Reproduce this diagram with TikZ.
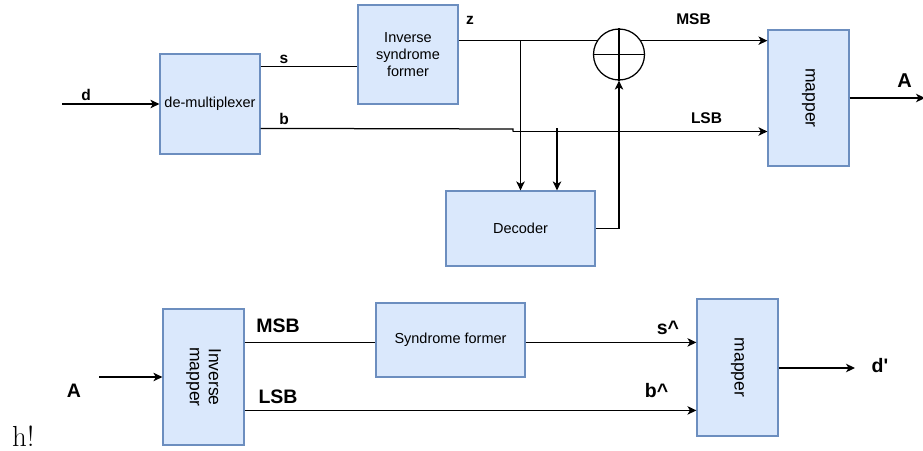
\documentclass[tikz,border=0pt]{standalone}
\usepackage{fontspec}
\setmainfont{Liberation Sans}
\newfontfamily\lmfont{Latin Modern Roman}
\usetikzlibrary{arrows.meta,calc}
\definecolor{boxfill}{HTML}{DAE8FC}
\definecolor{boxline}{HTML}{6C8EBF}
\tikzset{
  blk/.style={draw=boxline, fill=boxfill, line width=1.2pt, inner sep=0pt,
    align=center, font=\fontsize{14.5}{17}\selectfont},
  rotblk/.style={blk, font=\fontsize{17.5}{20}\selectfont},
  wire/.style={line width=1.25pt, draw=black},
  arr/.style={wire, -{Stealth[length=9pt,width=8.5pt,inset=2.5pt]}},
  lab/.style={font=\bfseries\fontsize{15.5}{18}\selectfont, anchor=base, inner sep=0pt},
  biglab/.style={font=\bfseries\fontsize{19.5}{22}\selectfont, anchor=base, inner sep=0pt}
}
\begin{document}
\begin{tikzpicture}[x=1pt, y=-1pt]
\useasboundingbox (0,0) rectangle (923,450);

% ---- encoder ----
\node[blk, minimum width=100pt, minimum height=100pt] (demux) at (210,104) {de-multiplexer};
\node[blk, minimum width=100pt, minimum height=99pt] (isf) at (408,54.5) {Inverse\\syndrome\\former};
\node[rotblk, minimum width=81pt, minimum height=136pt] (mapA) at (808.5,98) {};
\node[rotate=-90, font=\fontsize{17.5}{20}\selectfont] (mapAt) at (mapA.center) {mapper};
\node[blk, minimum width=149pt, minimum height=75pt] (dec) at (520.5,228.5) {Decoder};
\node[draw, circle, wire, minimum size=51pt, inner sep=0pt] (xor) at (619,54.5) {};
\draw[wire] (xor.north) -- (xor.south) (xor.west) -- (xor.east);

\coordinate (din) at (62,104);
\draw[arr] (din) -- (demux.west);
\node[lab] (ld) at (86,100) {d};

% s branch
\draw[wire] ([yshift=-13pt]demux.north east) coordinate (s0) -- (s0 -| isf.west);
\node[lab] (ls) at (284,63) {s};

% z branch to the adder
\draw[wire] (xor.148 -| isf.east) coordinate (z0) -- (xor.148);
\node[lab] (lz) at (470,24) {z};
\draw[arr] (xor.32) -- (xor.32 -| mapA.west);
\node[lab] (lmsb) at (693.5,24.3) {MSB};

% b branch
\coordinate (b0) at ([yshift=-75pt]demux.north east);
\coordinate (bj) at (513,129);
\coordinate (bj2) at (513,131.5);
\draw[wire] (b0) -- (bj) -- (bj2);
\draw[arr] (bj2) -- (bj2 -| mapA.west);
\node[lab] (lb) at (284,124) {b};
\node[lab] (llsb) at (706.5,123) {LSB};

% decoder inputs and output
\draw[arr] (dec.north |- z0) -- (dec.north);
\draw[arr] ([xshift=36.5pt]dec.north |- b0) -- ([xshift=36.5pt]dec.north);
\draw[arr] (dec.east) -| (xor.south);

% output A
\coordinate (aout) at (925,98);
\draw[arr] (mapA.east) -- (aout);
\node[lab, font=\bfseries\fontsize{20}{22}\selectfont] (lA) at (904.5,87) {A};

% ---- decoder side ----
\node[rotblk, minimum width=81pt, minimum height=136pt] (imap) at (203.5,377) {};
\node[rotate=-90, align=center, font=\fontsize{17.5}{19}\selectfont] (imapt) at (imap.center) {Inverse\\mapper};
\node[blk, minimum width=149pt, minimum height=74pt] (sf) at (450.5,340) {Syndrome former};
\node[rotblk, minimum width=81pt, minimum height=137pt] (mapB) at (737.5,367.5) {};
\node[rotate=-90, font=\fontsize{17.5}{20}\selectfont] (mapBt) at (mapB.center) {mapper};

\coordinate (ain) at (99,377);
\draw[arr] (ain) -- (imap.west);
\node[biglab] (lA2) at (74,397) {A};

\draw[wire] ([yshift=-34pt]imap.north east) coordinate (m0) -- (m0 -| sf.west);
\node[biglab] (lmsb2) at (278,332) {MSB};
\draw[arr] (sf.east |- m0) -- (m0 -| mapB.west);
\node[biglab] (lsh) at (668,334) {s\^{}};

\draw[arr] ([yshift=-102pt]imap.north east) coordinate (l0) -- (l0 -| mapB.west);
\node[biglab] (llsb2) at (278,403) {LSB};
\node[biglab] (lbh) at (656.5,397) {b\^{}};

\coordinate (dout) at (855,368);
\draw[arr] (mapB.east |- dout) -- (dout);
\node[biglab] (ldp) at (880,372) {d\textquotesingle};

\node[anchor=base west, inner sep=0pt, font=\lmfont\fontsize{29}{34}\selectfont] (hx) at (12,446) {h!};
\end{tikzpicture}
\end{document}
